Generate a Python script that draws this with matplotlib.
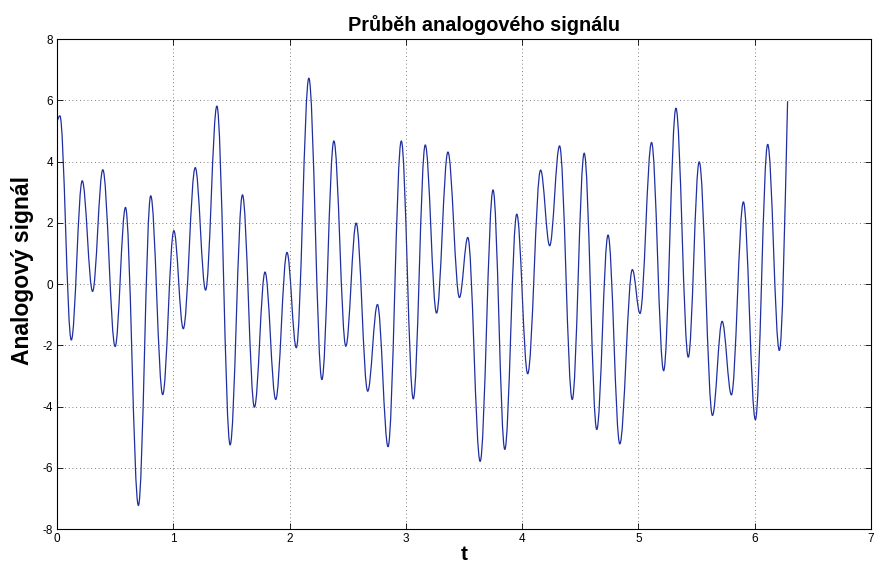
import matplotlib
matplotlib.use("Agg")
import matplotlib.pyplot as plt
from matplotlib.path import Path
from matplotlib.patches import PathPatch

plt.rcParams['font.family'] = ['Liberation Sans', 'DejaVu Sans']
plt.rcParams['axes.unicode_minus'] = False

# Extrema of the signal (t, value)
t_ext = [0.0, 0.025, 0.123, 0.217, 0.306, 0.394, 0.500, 0.589, 0.700, 0.806,
         0.909, 1.005, 1.086, 1.189, 1.278, 1.375, 1.489, 1.595, 1.698, 1.789,
         1.881, 1.978, 2.058, 2.166, 2.278, 2.381, 2.484, 2.573, 2.672, 2.756,
         2.847, 2.961, 3.064, 3.167, 3.264, 3.362, 3.461, 3.533, 3.639, 3.750,
         3.851, 3.954, 4.048, 4.159, 4.237, 4.322, 4.431, 4.534, 4.642, 4.739,
         4.840, 4.948, 5.014, 5.113, 5.217, 5.323, 5.429, 5.523, 5.637, 5.720,
         5.800, 5.903, 6.006, 6.112, 6.212, 6.283]
y_ext = [5.30, 5.49, -1.83, 3.37, -0.24, 3.73, -2.04, 2.50, -7.23, 2.88,
         -3.61, 1.74, -1.46, 3.80, -0.20, 5.81, -5.25, 2.91, -4.02, 0.39,
         -3.77, 1.03, -2.08, 6.72, -3.12, 4.67, -2.03, 1.99, -3.50, -0.67,
         -5.31, 4.67, -3.75, 4.54, -0.95, 4.31, -0.44, 1.52, -5.79, 3.07,
         -5.40, 2.28, -2.93, 3.72, 1.25, 4.51, -3.77, 4.27, -4.75, 1.60,
         -5.22, 0.47, -0.96, 4.62, -2.83, 5.74, -2.39, 3.99, -4.29, -1.22,
         -3.62, 2.68, -4.43, 4.56, -2.17, 5.97]
assert len(t_ext) == len(y_ext)

x_ticks = [0, 1, 2, 3, 4, 5, 6, 7]
y_ticks = [-8, -6, -4, -2, 0, 2, 4, 6, 8]

title = "Průběh analogového signálu"
xlabel = "t"
ylabel = "Analogový signál"

fig = plt.figure(figsize=(8.81, 5.67), dpi=100)
ax = fig.add_axes([0.0647, 0.067, 0.9239, 0.8642])

# smooth path through the extrema (cubic Bezier segments, drawn by matplotlib)
k = 0.364
verts = [(t_ext[0], y_ext[0])]
codes = [Path.MOVETO]
n = len(t_ext)
for i in range(n - 1):
    t0, y0 = t_ext[i], y_ext[i]
    t1, y1 = t_ext[i + 1], y_ext[i + 1]
    dt = t1 - t0
    c1y = y0
    c2y = y1
    if i == 0:
        c1y = y0 + 0.5 * (y1 - y0)
    if i == n - 2:
        c2y = y1 - 0.5 * (y1 - y0)
    verts += [(t0 + k * dt, c1y), (t1 - k * dt, c2y), (t1, y1)]
    codes += [Path.CURVE4] * 3
ax.add_patch(PathPatch(Path(verts, codes), facecolor='none',
                       edgecolor='#1f2fa0', lw=0.9))

ax.set_xlim(0, 7)
ax.set_ylim(-8, 8)
ax.set_xticks(x_ticks)
ax.set_yticks(y_ticks)
ax.set_xticklabels([str(v) for v in x_ticks])
ax.set_yticklabels([str(v) for v in y_ticks])
ax.grid(True, linestyle=(0, (1, 3.5)), color='#555555', lw=0.6)
ax.tick_params(direction='in', length=4, width=0.6, top=True, right=True,
               labelsize=8.5, pad=3, colors='black')
for s in ax.spines.values():
    s.set_linewidth(0.8)

ax.set_title(title, fontsize=14.3, fontweight='bold', pad=6, x=0.525)
ax.set_xlabel(xlabel, fontsize=15, fontweight='bold', labelpad=0)
ax.set_ylabel(ylabel, fontsize=16.5, fontweight='bold')
ax.yaxis.set_label_coords(-0.028, 0.527)

fig.savefig("out.png", dpi=100)
